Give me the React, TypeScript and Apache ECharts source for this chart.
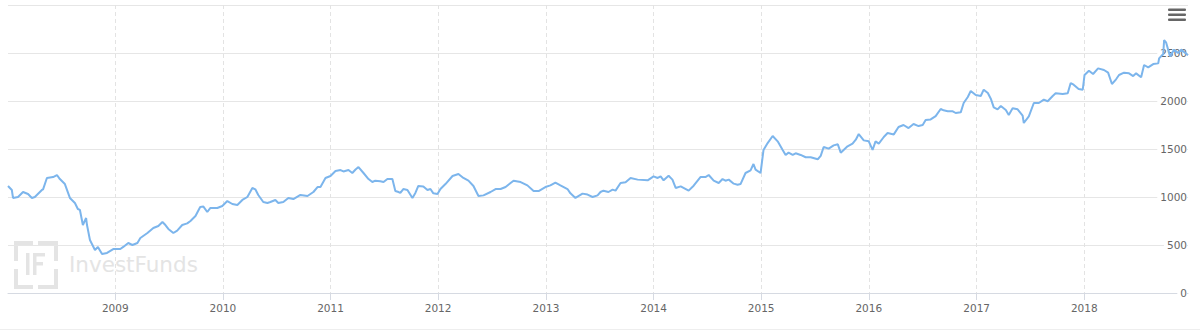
import React, { useEffect, useRef } from "react";
import * as echarts from "echarts";

const dates: string[] = [
  "2008-01-03","2008-01-16","2008-01-20","2008-02-06","2008-02-23","2008-03-11","2008-03-24","2008-04-03","2008-04-27","2008-05-01",
  "2008-05-14","2008-06-04","2008-06-17","2008-06-27","2008-07-14","2008-07-31","2008-08-17","2008-08-27","2008-09-03","2008-09-13",
  "2008-09-24","2008-09-27","2008-10-07","2008-10-24","2008-11-03","2008-11-17","2008-12-04","2008-12-25","2009-01-18","2009-01-28",
  "2009-02-14","2009-02-28","2009-03-17","2009-03-27","2009-04-20","2009-05-10","2009-05-27","2009-06-10","2009-06-20","2009-06-30",
  "2009-07-17","2009-07-30","2009-08-16","2009-09-02","2009-09-13","2009-09-30","2009-10-16","2009-10-27","2009-11-09","2009-11-19",
  "2009-12-13","2009-12-30","2010-01-16","2010-02-02","2010-02-19","2010-03-08","2010-03-25","2010-04-11","2010-04-21","2010-05-01",
  "2010-05-18","2010-06-01","2010-06-11","2010-06-28","2010-07-08","2010-07-25","2010-08-11","2010-08-28","2010-09-21","2010-10-15",
  "2010-11-04","2010-11-18","2010-11-28","2010-12-15","2011-01-01","2011-01-18","2011-02-04","2011-02-14","2011-03-03","2011-03-16",
  "2011-03-27","2011-04-06","2011-04-23","2011-05-10","2011-05-23","2011-06-02","2011-06-19","2011-06-30","2011-07-13","2011-07-30",
  "2011-08-09","2011-08-20","2011-08-26","2011-09-05","2011-09-19","2011-10-06","2011-10-16","2011-10-26","2011-11-12","2011-11-26",
  "2011-12-06","2011-12-16","2011-12-30","2012-01-09","2012-01-26","2012-02-19","2012-03-10","2012-03-27","2012-04-13","2012-04-30",
  "2012-05-17","2012-06-03","2012-06-27","2012-07-14","2012-07-31","2012-08-17","2012-09-03","2012-09-13","2012-10-07","2012-10-30",
  "2012-11-20","2012-12-07","2012-12-30","2013-01-16","2013-02-02","2013-02-19","2013-03-15","2013-03-25","2013-04-11","2013-05-05",
  "2013-05-22","2013-06-08","2013-06-25","2013-07-05","2013-07-15","2013-08-01","2013-08-15","2013-08-25","2013-09-11","2013-09-28",
  "2013-10-15","2013-11-08","2013-12-12","2014-01-01","2014-01-15","2014-01-25","2014-02-04","2014-02-21","2014-03-06","2014-03-17",
  "2014-04-03","2014-04-30","2014-05-17","2014-06-09","2014-06-26","2014-07-07","2014-07-24","2014-08-10","2014-08-23","2014-09-02",
  "2014-09-13","2014-09-30","2014-10-13","2014-10-23","2014-11-09","2014-11-26","2014-12-06","2014-12-13","2014-12-30","2015-01-09",
  "2015-01-23","2015-02-09","2015-02-26","2015-03-15","2015-03-25","2015-04-04","2015-04-18","2015-04-28","2015-05-15","2015-06-01",
  "2015-06-18","2015-07-12","2015-07-22","2015-08-01","2015-08-18","2015-09-04","2015-09-18","2015-09-28","2015-10-21","2015-11-07",
  "2015-11-18","2015-11-28","2015-12-15","2016-01-01","2016-01-14","2016-01-24","2016-02-04","2016-02-21","2016-03-05","2016-03-26",
  "2016-04-11","2016-04-28","2016-05-15","2016-06-01","2016-06-18","2016-07-02","2016-07-12","2016-07-29","2016-08-15","2016-09-01",
  "2016-09-11","2016-09-25","2016-10-12","2016-10-22","2016-11-08","2016-11-18","2016-12-02","2016-12-12","2016-12-29","2017-01-15",
  "2017-01-25","2017-02-08","2017-02-18","2017-02-28","2017-03-13","2017-03-24","2017-04-10","2017-04-20","2017-05-03","2017-05-20",
  "2017-06-06","2017-06-10","2017-06-27","2017-07-14","2017-07-31","2017-08-17","2017-08-30","2017-09-16","2017-09-26","2017-10-20",
  "2017-11-06","2017-11-16","2017-11-26","2017-12-13","2017-12-27","2018-01-02","2018-01-17","2018-01-31","2018-02-17","2018-03-09",
  "2018-03-23","2018-04-05","2018-04-19","2018-04-29","2018-05-16","2018-06-02","2018-06-16","2018-06-26","2018-07-13","2018-07-23",
  "2018-08-06","2018-08-23","2018-09-09","2018-09-12","2018-09-26","2018-09-29","2018-10-06","2018-10-19","2018-11-02","2018-11-15",
  "2018-11-26","2018-12-19",
];

const values: number[] = [
  1115,1073,990,1000,1052,1031,990,1000,1073,1080,
  1198,1208,1229,1187,1135,990,938,875,865,708,
  781,708,552,448,479,406,417,458,458,480,
  521,500,521,573,625,677,698,740,708,667,
  625,650,708,725,750,802,896,900,844,885,
  885,906,958,927,917,969,1000,1094,1080,1021,
  948,938,948,969,938,948,990,979,1021,1010,
  1052,1104,1104,1198,1219,1271,1281,1266,1281,1250,
  1286,1312,1250,1187,1156,1170,1165,1156,1187,1187,
  1062,1052,1042,1083,1073,990,1042,1115,1110,1073,
  1083,1038,1031,1083,1135,1219,1240,1198,1170,1115,
  1010,1017,1052,1083,1083,1104,1146,1170,1156,1121,
  1062,1062,1104,1121,1149,1121,1083,1038,990,1035,
  1025,1000,1017,1052,1066,1052,1077,1066,1146,1153,
  1198,1181,1174,1215,1198,1215,1174,1222,1181,1094,
  1111,1066,1118,1208,1208,1229,1170,1146,1187,1170,
  1181,1139,1128,1135,1250,1278,1344,1285,1250,1490,
  1562,1635,1580,1490,1438,1462,1438,1455,1438,1414,
  1414,1393,1428,1521,1504,1538,1549,1462,1528,1556,
  1597,1656,1590,1580,1490,1580,1556,1625,1666,1652,
  1729,1750,1718,1760,1739,1750,1801,1808,1843,1917,
  1903,1893,1893,1875,1882,1979,2042,2104,2062,2052,
  2118,2083,2024,1934,1913,1948,1906,1854,1924,1913,
  1847,1771,1840,1979,1979,2014,1997,2052,2080,2073,
  2080,2187,2170,2125,2118,2271,2316,2281,2340,2323,
  2295,2177,2226,2271,2295,2288,2260,2288,2247,2375,
  2351,2385,2392,2444,2490,2635,2607,2465,2535,2500,
  2535,2476,
];

const yMin = 0;
const yMax = 3000;
const yStep = 500;
const watermarkText = "InvestFunds";

const DAY = 24 * 3600 * 1000;

export default function App() {
  const ref = useRef<HTMLDivElement>(null);

  useEffect(() => {
    if (!ref.current) return;
    const chart = echarts.init(ref.current, undefined, { renderer: "svg" });
    const labelFont = "DejaVu Sans";
    const wm = "#e4e4e4";
    const option: any = {
      animation: false,
      backgroundColor: "#ffffff",
      grid: { left: 8, right: 12, top: 5, bottom: 38, containLabel: false },
      xAxis: {
        type: "time",
        min: "dataMin",
        max: "dataMax",
        minInterval: 365 * DAY,
        maxInterval: 366 * DAY,
        axisLine: { show: true, lineStyle: { color: "#d6dae2", width: 1 } },
        axisTick: { show: true, length: 7, lineStyle: { color: "#d6dae2" } },
        axisLabel: {
          color: "#666666",
          fontSize: 10.5,
          fontFamily: labelFont,
          margin: 9,
          showMinLabel: false,
          showMaxLabel: false,
          formatter: (v: number) => String(new Date(v).getFullYear()),
        },
        splitLine: {
          show: true,
          showMinLine: false,
          showMaxLine: false,
          lineStyle: { color: "#e3e3e3", type: [4, 3], width: 1 },
        },
      },
      yAxis: {
        type: "value",
        position: "right",
        min: yMin,
        max: yMax,
        interval: yStep,
        axisLine: { show: false },
        axisTick: { show: false },
        axisLabel: {
          inside: true,
          margin: 1,
          color: "#666666",
          fontSize: 10.5,
          fontFamily: labelFont,
          showMaxLabel: false,
          verticalAlign: "middle",
          lineHeight: 14,
          padding: [0, 0, 10, 3],
          backgroundColor: "#ffffff",
          formatter: (v: number) => String(v),
        },
        splitLine: { show: true, lineStyle: { color: "#e6e6e6", width: 1 } },
      },
      series: [
        {
          type: "line",
          data: dates.map((d, i) => [d, values[i]]),
          showSymbol: false,
          symbol: "none",
          lineStyle: { color: "#7cb5ec", width: 2 },
          itemStyle: { color: "#7cb5ec" },
          z: 3,
        },
      ],
      graphic: [
        // watermark logo
        { type: "rect", shape: { x: 14, y: 241, width: 19, height: 4 }, style: { fill: wm }, z: 0 },
        { type: "rect", shape: { x: 38, y: 241, width: 20, height: 4 }, style: { fill: wm }, z: 0 },
        { type: "rect", shape: { x: 14, y: 285, width: 19, height: 4 }, style: { fill: wm }, z: 0 },
        { type: "rect", shape: { x: 38, y: 285, width: 20, height: 4 }, style: { fill: wm }, z: 0 },
        { type: "rect", shape: { x: 14, y: 241, width: 4, height: 20 }, style: { fill: wm }, z: 0 },
        { type: "rect", shape: { x: 14, y: 269, width: 4, height: 20 }, style: { fill: wm }, z: 0 },
        { type: "rect", shape: { x: 54, y: 241, width: 4, height: 20 }, style: { fill: wm }, z: 0 },
        { type: "rect", shape: { x: 54, y: 269, width: 4, height: 20 }, style: { fill: wm }, z: 0 },
        { type: "rect", shape: { x: 26, y: 253, width: 3.5, height: 22 }, style: { fill: wm }, z: 0 },
        { type: "rect", shape: { x: 33, y: 253, width: 3.5, height: 22 }, style: { fill: wm }, z: 0 },
        { type: "rect", shape: { x: 33, y: 253, width: 12, height: 3.5 }, style: { fill: wm }, z: 0 },
        { type: "rect", shape: { x: 33, y: 262, width: 10, height: 3.5 }, style: { fill: wm }, z: 0 },
        {
          type: "text",
          x: 69,
          y: 264,
          z: 0,
          style: {
            text: watermarkText,
            fill: wm,
            font: "normal 21.5px 'DejaVu Sans'",
            verticalAlign: "middle",
          },
        },
        // menu icon
        { type: "rect", shape: { x: 1168, y: 8.5, width: 18, height: 2.5, r: 1 }, style: { fill: "#666666" } },
        { type: "rect", shape: { x: 1168, y: 13.5, width: 18, height: 2.5, r: 1 }, style: { fill: "#666666" } },
        { type: "rect", shape: { x: 1168, y: 18.5, width: 18, height: 2.5, r: 1 }, style: { fill: "#666666" } },
        // container border
        { type: "line", shape: { x1: 0, y1: 329.5, x2: 1200, y2: 329.5 }, style: { stroke: "#eeeeee", lineWidth: 1 } },
      ],
    };
    chart.setOption(option);
    return () => chart.dispose();
  }, []);

  return (
    <div
      ref={ref}
      style={{ position: "fixed", left: 0, top: 0, width: 1200, height: 331, background: "#fff" }}
    />
  );
}
